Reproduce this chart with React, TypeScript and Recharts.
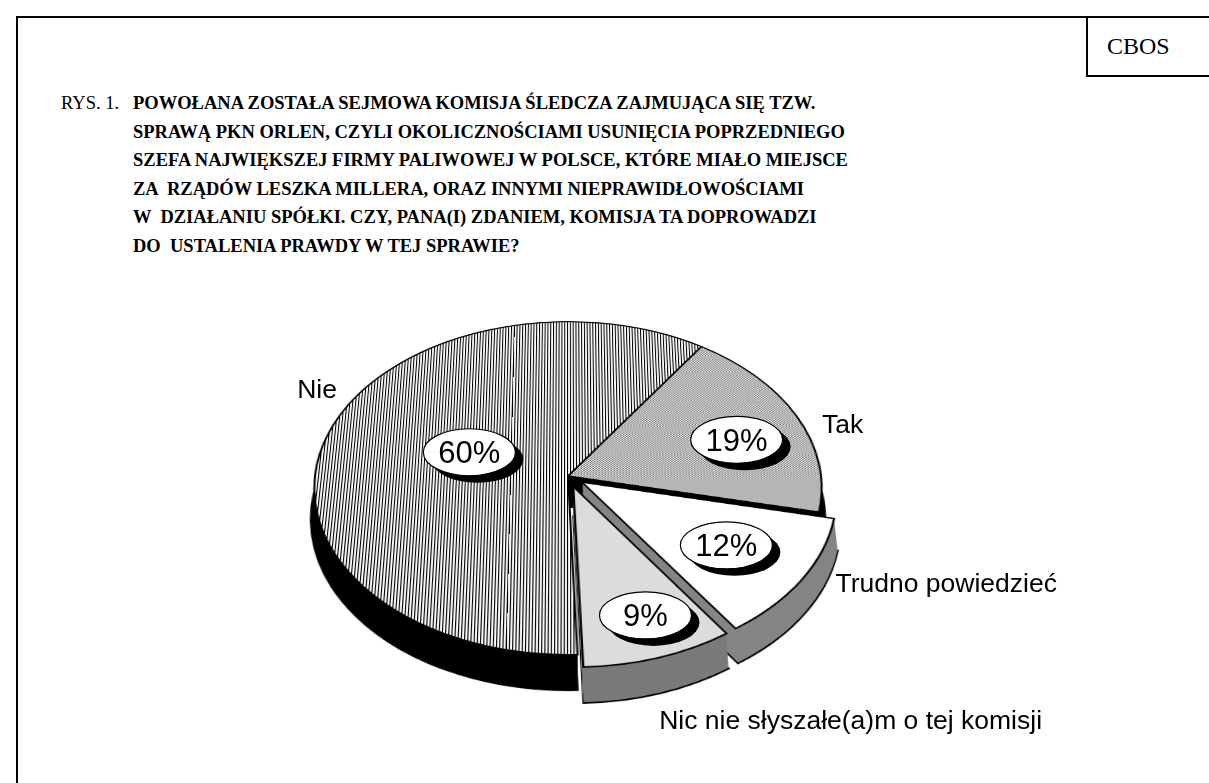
import React from 'react'
import { Cell, Pie, PieChart } from 'recharts'

// --- data ---
const categories = ['Tak', 'Trudno powiedzieć', 'Nic nie słyszałe(a)m o tej komisji', 'Nie']
const values = [19, 12, 9, 60]
const titlePrefix = 'RYS. 1.'
const titleLines = [
  'POWOŁANA ZOSTAŁA SEJMOWA KOMISJA ŚLEDCZA ZAJMUJĄCA SIĘ TZW.',
  'SPRAWĄ PKN ORLEN, CZYLI OKOLICZNOŚCIAMI USUNIĘCIA POPRZEDNIEGO',
  'SZEFA NAJWIĘKSZEJ FIRMY PALIWOWEJ W POLSCE, KTÓRE MIAŁO MIEJSCE',
  'ZA  RZĄDÓW LESZKA MILLERA, ORAZ INNYMI NIEPRAWIDŁOWOŚCIAMI',
  'W  DZIAŁANIU SPÓŁKI. CZY, PANA(I) ZDANIEM, KOMISJA TA DOPROWADZI',
  'DO  USTALENIA PRAWDY W TEJ SPRAWIE?'
]

// --- look & layout ---
const W = 1209
const H = 783
const FLAT_H = 900 // the untilted pie needs more room than the page
const CX = 568
const CY = 476 // pie centre on the page
const R = 253
const TILT = 49.1 // deg, the pie plane is tilted back
const PERSP = 2600 // px
const DEPTH = 46 // thickness, in pie-plane px
const EXPLODE = 17
const START = 56
const exploded = [false, true, true, false]
const topFill = ['url(#patTak)', '#ffffff', '#dcdcdc', 'url(#patNie)']
const sideFill = ['#000000', '#858585', '#7a7a7a', '#000000']
const sliceGroups = [[0, 3], [1], [2]]
// label nudges in page px
const nameNudge = [[-1, 24], [6, 1], [-11, 50], [35, -28]]
const bubbleNudge = [[-4, 9], [-19, -9], [9, 3], [81, 10]]

const sans = '"Liberation Sans", Arial, sans-serif'
const serif = '"Liberation Serif", "Times New Roman", serif'

const pieData = categories.map((name, i) => ({ name, value: values[i] }))
const total = values.reduce((s, v) => s + v, 0)
const cosT = Math.cos((TILT * Math.PI) / 180)
const sinT = Math.sin((TILT * Math.PI) / 180)

function midAngleOf(i: number) {
  const before = values.slice(0, i).reduce((s, v) => s + v, 0)
  return START - (360 * (before + values[i] / 2)) / total
}

// same projection the CSS transform applies, for placing the labels
function project(x: number, y: number) {
  const f = PERSP / (PERSP - y * sinT)
  return [x * f, y * cosT * f]
}

const layers: number[] = []
for (let d = DEPTH; d > 0; d -= 1.5) layers.push(d)

const groups = sliceGroups.map((members) => {
  if (!exploded[members[0]]) return { members, cx: CX, cy: CY }
  const a = (-midAngleOf(members[0]) * Math.PI) / 180
  return { members, cx: CX + EXPLODE * Math.cos(a), cy: CY + EXPLODE * Math.sin(a) }
})

const renderLabel = (props: any) => {
  const { cx, cy, midAngle, outerRadius, index } = props
  const a = (-midAngle * Math.PI) / 180
  const cos = Math.cos(a)
  const sin = Math.sin(a)
  const e = exploded[index] ? EXPLODE : 0
  const [ox, oy] = project((e + outerRadius + 30) * cos, (e + outerRadius + 30) * sin)
  const [bx, by] = project((e + outerRadius * 0.75) * cos, (e + outerRadius * 0.75) * sin)
  const [nx, ny] = nameNudge[index]
  const [px, py] = bubbleNudge[index]
  const x = cx + bx + px
  const y = cy + by + py
  return (
    <g key={`lbl-${index}`}>
      <text x={cx + ox + nx} y={cy + oy + ny} textAnchor={cos >= 0 ? 'start' : 'end'} fontFamily={sans} fontSize={26.5} fill="#000">
        {categories[index]}
      </text>
      <ellipse cx={x + 8} cy={y + 7} rx={46} ry={23.5} fill="#000" />
      <ellipse cx={x} cy={y} rx={46} ry={23.5} fill="#fff" stroke="#000" strokeWidth={1.2} />
      <text x={x} y={y + 11} textAnchor="middle" fontFamily={sans} fontSize={31} fill="#000">
        {`${values[index]}%`}
      </text>
    </g>
  )
}

export default function App() {
  return (
    <div style={{ position: 'absolute', left: 0, top: 0, width: W, height: H, overflow: 'hidden', background: '#fff' }}>
      <div style={{ position: 'absolute', left: 16, top: 16, width: W, borderTop: '2px solid #000' }} />
      <div style={{ position: 'absolute', left: 16, top: 16, height: H, borderLeft: '2px solid #000' }} />
      <div
        style={{
          position: 'absolute',
          left: 1086,
          top: 16,
          width: 200,
          height: 61,
          border: '2px solid #000',
          fontFamily: serif,
          fontSize: 24,
          lineHeight: '57px',
          paddingLeft: 19,
          boxSizing: 'border-box'
        }}
      >
        CBOS
      </div>

      <div style={{ position: 'absolute', left: 61, top: 89, display: 'flex', fontFamily: serif, fontSize: 18.5, lineHeight: '28.6px', color: '#000' }}>
        <span style={{ display: 'inline-block', width: 72, whiteSpace: 'pre' }}>{titlePrefix}</span>
        <div style={{ fontFamily: serif, fontWeight: 700, whiteSpace: 'pre' }}>
          {titleLines.map((t) => (
            <div key={t}>{t}</div>
          ))}
        </div>
      </div>

      {/* pie drawn flat, then tilted back in perspective */}
      <div
        style={{
          position: 'absolute',
          left: 0,
          top: 0,
          width: W,
          height: FLAT_H,
          transform: `perspective(${PERSP}px) rotateX(${TILT}deg)`,
          transformOrigin: `${CX}px ${CY}px`
        }}
      >
        <PieChart width={W} height={FLAT_H} margin={{ top: 0, right: 0, bottom: 0, left: 0 }}>
          <defs>
            <pattern id="patNie" width={3} height={4} patternUnits="userSpaceOnUse">
              <rect width={3} height={4} fill="#fff" />
              <rect width={1.1} height={4} fill="#000" />
            </pattern>
            <pattern id="patTak" width={3} height={3} patternUnits="userSpaceOnUse">
              <rect width={3} height={3} fill="#fff" />
              <rect width={1.5} height={1.5} fill="#6a6a6a" />
              <rect x={1.5} y={1.5} width={1.5} height={1.5} fill="#6a6a6a" />
            </pattern>
          </defs>

          {groups.map((g, gi) =>
            layers.map((d, li) => (
              <Pie
                key={`side-${gi}-${li}`}
                data={pieData}
                dataKey="value"
                cx={g.cx}
                cy={g.cy + d}
                outerRadius={R}
                startAngle={START}
                endAngle={START - 360}
                isAnimationActive={false}
                labelLine={false}
                stroke="none"
              >
                {pieData.map((_, j) => (
                  <Cell
                    key={j}
                    fill={g.members.includes(j) ? sideFill[j] : 'none'}
                    stroke={g.members.includes(j) && li === 0 ? '#000' : 'none'}
                    strokeWidth={2}
                  />
                ))}
              </Pie>
            ))
          )}

          {groups.map((g, gi) => (
            <Pie
              key={`top-${gi}`}
              data={pieData}
              dataKey="value"
              cx={g.cx}
              cy={g.cy}
              outerRadius={R}
              startAngle={START}
              endAngle={START - 360}
              isAnimationActive={false}
              labelLine={false}
            >
              {pieData.map((_, j) => (
                <Cell
                  key={j}
                  fill={g.members.includes(j) ? topFill[j] : 'none'}
                  stroke={g.members.includes(j) ? '#000' : 'none'}
                  strokeWidth={2}
                />
              ))}
            </Pie>
          ))}
        </PieChart>
      </div>

      {/* labels: same pie, untilted, only its labels are visible */}
      <div style={{ position: 'absolute', left: 0, top: 0, width: W, height: H }}>
        <PieChart width={W} height={H} margin={{ top: 0, right: 0, bottom: 0, left: 0 }}>
          <Pie
            data={pieData}
            dataKey="value"
            cx={CX}
            cy={CY}
            outerRadius={R}
            startAngle={START}
            endAngle={START - 360}
            isAnimationActive={false}
            labelLine={false}
            label={renderLabel}
            fill="none"
            stroke="none"
          >
            {pieData.map((_, j) => (
              <Cell key={j} fill="none" stroke="none" />
            ))}
          </Pie>
        </PieChart>
      </div>
    </div>
  )
}
